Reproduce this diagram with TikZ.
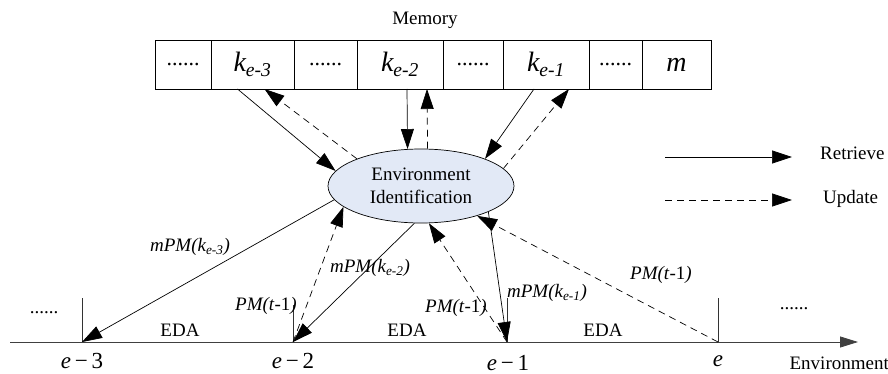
\documentclass[tikz,border=0pt]{standalone}
\usepackage{fontspec}
\setmainfont{Liberation Serif}
\usetikzlibrary{arrows.meta,positioning,shapes.geometric,calc}
\definecolor{envfill}{RGB}{226,233,246}
\tikzset{
  cell/.style={draw, line width=0.7pt, minimum height=49pt, inner sep=0pt, outer sep=0pt, font=\fontsize{28}{30}\selectfont\itshape},
  dotcell/.style={cell, font=\fontsize{22}{26}\selectfont},
  retrieve/.style={line width=0.7pt, -{Triangle[length=20pt,width=13pt]}},
  update/.style={retrieve, dash pattern=on 7pt off 5pt},
  lbl/.style={font=\fontsize{19}{23}\selectfont\itshape, inner sep=1pt},
  txt/.style={font=\fontsize{19}{23}\selectfont, inner sep=0pt},
  axislbl/.style={font=\fontsize{23}{26}\selectfont, inner sep=0pt},
  tick/.style={line width=0.7pt, black!80},
}
\begin{document}
\begin{tikzpicture}[x=1pt,y=-1pt]
\useasboundingbox (0,0) rectangle (888,374);
% memory row
\node[txt] (memlbl) at (425,20) {Memory};
\node[dotcell, minimum width=56pt, anchor=west] (c1) at (155,64.5) {......};
\node[cell, minimum width=83pt, right=0pt of c1] (ke3) {k\textsubscript{e-3}};
\node[dotcell, minimum width=63pt, right=0pt of ke3] (c2) {......};
\node[cell, minimum width=86pt, right=0pt of c2] (ke2) {k\textsubscript{e-2}};
\node[dotcell, minimum width=60pt, right=0pt of ke2] (c3) {......};
\node[cell, minimum width=86pt, right=0pt of c3] (ke1) {k\textsubscript{e-1}};
\node[dotcell, minimum width=53pt, right=0pt of ke1] (c4) {......};
\node[cell, minimum width=69pt, right=0pt of c4] (mcell) {m};
% identification
\node[ellipse, draw, fill=envfill, line width=0.7pt, minimum width=186pt, minimum height=74pt, inner sep=1pt, align=center, txt] (env) at (421,186) {Environment\\Identification};
% environment axis
\coordinate (ax0) at (10,342);
\coordinate (ax1) at (858,342);
\draw[line width=0.8pt, black!75, -{Triangle[length=18pt,width=11pt]}] (ax0) -- (ax1);
\coordinate (e3) at (82,342);
\coordinate (e2) at (293,342);
\coordinate (e1) at (507,342);
\coordinate (e0) at (718,342);
\draw[tick] (e3) -- ++(0,-44);
\draw[tick] (e2) -- ++(0,-37);
\draw[tick] (e1) -- ++(0,-44);
\draw[tick] (e0) -- ++(0,-44);
\node[axislbl] (le3) at (82,361) {\textit{e}\,−\,3};
\node[axislbl] (le2) at (293,361) {\textit{e}\,−\,2};
\node[axislbl] (le1) at (508,363) {\textit{e}\,−\,1};
\node[axislbl] (le0) at (718,361) {\textit{e}};
\node[txt, anchor=east] (envlbl) at (889,363) {Environment};
\node[txt] (dl) at (44,313) {......};
\node[txt] (dr) at (794,309) {......};
\node[txt] (eda1) at (180,330) {EDA};
\node[txt] (eda2) at (407,330) {EDA};
\node[txt] (eda3) at (603,330) {EDA};
% memory <-> identification
\draw[retrieve] ($(ke3.south)+(-15,0)$) -- (env.170);
\draw[update] (env.157) -- ($(ke3.south)+(12,0)$);
\draw[retrieve] ($(ke2.south)+(7,0)$) -- (env.110);
\draw[update] (env.80) -- ($(ke2.south)+(27,0)$);
\draw[retrieve] ($(ke1.south)+(-12,0)$) -- (env.23);
\draw[update] (env.12) -- ($(ke1.south)+(23,0)$);
% identification <-> environments
\draw[retrieve] (env.189) -- (e3);
\draw[update] (e2) -- (env.195);
\draw[retrieve] (env.260) -- (e2);
\draw[update] (e1) -- (env.282);
\draw[retrieve] (env.339) -- (e1);
\draw[update] (e0) -- (env.332);
\node[lbl] (m3) at (190,247) {mPM(k\textsubscript{e-3})};
\node[lbl] (p2) at (266,306) {PM(t\textup{-1})};
\node[lbl] (m2) at (370,268) {mPM(k\textsubscript{e-2})};
\node[lbl] (p1) at (456,308) {PM(t\textup{-1})};
\node[lbl] (m1) at (547,293) {mPM(k\textsubscript{e-1})};
\node[lbl] (p0) at (661,275) {PM(t\textup{-1})};
% legend
\coordinate (rs) at (665,157);
\coordinate (re) at (792,157);
\draw[retrieve] (rs) -- (re);
\node[txt, anchor=west] (rlbl) at (820,153) {Retrieve};
\coordinate (us) at (665,200);
\coordinate (ue) at (792,200);
\draw[update] (us) -- (ue);
\node[txt, anchor=west] (ulbl) at (823,199) {Update};
\end{tikzpicture}
\end{document}
